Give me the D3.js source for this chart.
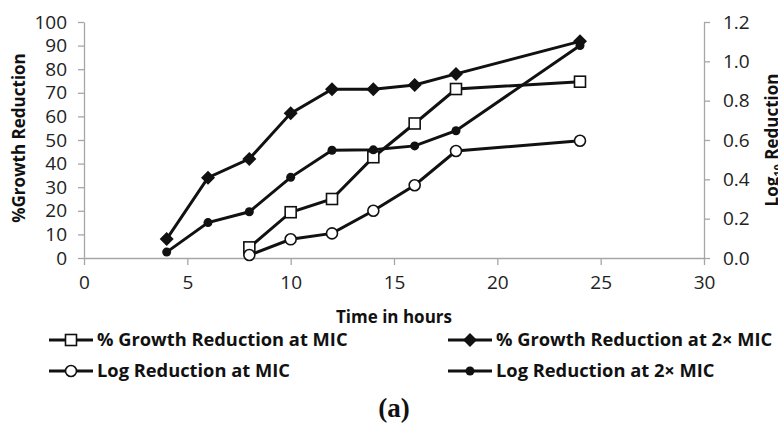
<!DOCTYPE html>
<html lang="en">
<head>
    <meta charset="UTF-8">
    <title>Growth and log reduction over time</title>
    <script src="https://d3js.org/d3.v7.min.js"></script>
    <style>
        body, html {
            margin: 0;
            padding: 0;
            background: #ffffff;
            overflow: hidden;
        }
        svg {
            font-family: "Open Sans", sans-serif;
        }
        .axis path, .axis line {
            stroke: #a6a6a6;
            stroke-width: 1.3px;
        }
        .axis text {
            font-size: 19px;
            fill: #222;
        }
        .title {
            font-weight: bold;
            font-size: 17px;
            fill: #111;
        }
        .legend text {
            font-size: 18.3px;
        }
        .series {
            fill: none;
            stroke: #111;
            stroke-width: 3px;
        }
    </style>
</head>
<body>
<div id="chart"></div>
<script>
    // values
    const hours = [4, 6, 8, 10, 12, 14, 16, 18, 24];
    const growthMIC = [null, null, 4.5, 19.4, 25, 42.7, 57, 71.6, 74.7];
    const growth2MIC = [8, 34, 42, 61.3, 71.5, 71.5, 73.3, 78, 91.8];
    const logMIC = [null, null, 0.015, 0.095, 0.125, 0.24, 0.37, 0.544, 0.596];
    const log2MIC = [0.03, 0.18, 0.235, 0.41, 0.548, 0.55, 0.57, 0.647, 1.08];

    const xTicks = [0, 5, 10, 15, 20, 25, 30];
    const leftTicks = [0, 10, 20, 30, 40, 50, 60, 70, 80, 90, 100];
    const rightTicks = [0, 0.2, 0.4, 0.6, 0.8, 1.0, 1.2];

    const width = 778, height = 423;
    const svg = d3.select('#chart').append('svg')
        .attr('width', width)
        .attr('height', height);

    const x = d3.scaleLinear().domain([0, 30]).range([84, 704]);
    const yLeft = d3.scaleLinear().domain([0, 100]).range([258, 22]);
    const yRight = d3.scaleLinear().domain([0, 1.2]).range([258, 22]);

    // axes
    svg.append('g')
        .attr('class', 'axis')
        .attr('transform', 'translate(0,258)')
        .call(d3.axisBottom(x).tickValues(xTicks).tickSize(7).tickPadding(10).tickSizeOuter(0))
        .call(g => g.selectAll('text').attr('dy', '0.75em'));

    svg.append('g')
        .attr('class', 'axis')
        .attr('transform', 'translate(84,0)')
        .call(d3.axisLeft(yLeft).tickValues(leftTicks).tickSize(6).tickPadding(11).tickSizeOuter(0));

    svg.append('g')
        .attr('class', 'axis')
        .attr('transform', 'translate(704,0)')
        .call(d3.axisRight(yRight).tickValues(rightTicks).tickFormat(d3.format('.1f'))
            .tickSize(6).tickPadding(13).tickSizeOuter(0));

    svg.selectAll('.axis text').attr('font-family', '"Open Sans", sans-serif');

    // axis titles
    svg.append('text')
        .attr('class', 'title')
        .attr('transform', 'translate(25,138) rotate(-90)')
        .attr('text-anchor', 'middle')
        .text('%Growth Reduction');

    // right title sits against the edge, partly cut like the original
    const rt = svg.append('text')
        .attr('class', 'title')
        .attr('transform', 'translate(778,140) rotate(-90)')
        .attr('text-anchor', 'middle');
    rt.append('tspan').text('Log');
    rt.append('tspan').attr('font-size', '11px').attr('dy', 4).text('10');
    rt.append('tspan').attr('dy', -4).text(' Reduction');

    svg.append('text')
        .attr('class', 'title')
        .attr('x', x(15))
        .attr('y', 323)
        .attr('text-anchor', 'middle')
        .text('Time in hours');

    // series
    const series = [
        { name: '% Growth Reduction at MIC', values: growthMIC, y: yLeft, marker: 'square' },
        { name: '% Growth Reduction at 2\u00d7 MIC', values: growth2MIC, y: yLeft, marker: 'diamond' },
        { name: 'Log Reduction at MIC', values: logMIC, y: yRight, marker: 'openCircle' },
        { name: 'Log Reduction at 2\u00d7 MIC', values: log2MIC, y: yRight, marker: 'dot' }
    ];

    function drawMarker(g, type, cx, cy) {
        if (type === 'square') {
            g.append('rect').attr('x', cx - 5.5).attr('y', cy - 5.5).attr('width', 11).attr('height', 11)
                .attr('fill', '#fff').attr('stroke', '#111').attr('stroke-width', 1.6);
        } else if (type === 'diamond') {
            const r = 7;
            g.append('path')
                .attr('d', `M${cx},${cy - r}L${cx + r},${cy}L${cx},${cy + r}L${cx - r},${cy}Z`)
                .attr('fill', '#111');
        } else if (type === 'openCircle') {
            g.append('circle').attr('cx', cx).attr('cy', cy).attr('r', 5.5)
                .attr('fill', '#fff').attr('stroke', '#111').attr('stroke-width', 1.6);
        } else {
            g.append('circle').attr('cx', cx).attr('cy', cy).attr('r', 4.5).attr('fill', '#111');
        }
    }

    series.forEach(s => {
        const pts = hours.map((h, i) => ({ h: h, v: s.values[i] })).filter(d => d.v !== null);
        const line = d3.line().x(d => x(d.h)).y(d => s.y(d.v));
        svg.append('path').attr('class', 'series').attr('d', line(pts));
        const g = svg.append('g');
        pts.forEach(d => drawMarker(g, s.marker, x(d.h), s.y(d.v)));
    });

    // legend
    const legendPos = [[49, 340], [448, 340], [49, 371], [448, 371]];
    series.forEach((s, i) => {
        const [lx, ly] = legendPos[i];
        const g = svg.append('g').attr('class', 'legend');
        g.append('line').attr('x1', lx).attr('x2', lx + 44).attr('y1', ly).attr('y2', ly)
            .attr('stroke', '#111').attr('stroke-width', 3);
        drawMarker(g, s.marker, lx + 22, ly);
        g.append('text').attr('class', 'title')
            .attr('x', lx + 48).attr('y', ly).attr('dy', '0.35em')
            .style('font-size', '18.3px')
            .text(s.name);
    });

    // panel label
    svg.append('text')
        .attr('x', 394).attr('y', 417)
        .attr('text-anchor', 'middle')
        .attr('font-family', '"Liberation Serif", serif')
        .attr('font-weight', 'bold')
        .attr('font-size', '27px')
        .attr('fill', '#111')
        .text('(a)');
</script>
</body>
</html>
